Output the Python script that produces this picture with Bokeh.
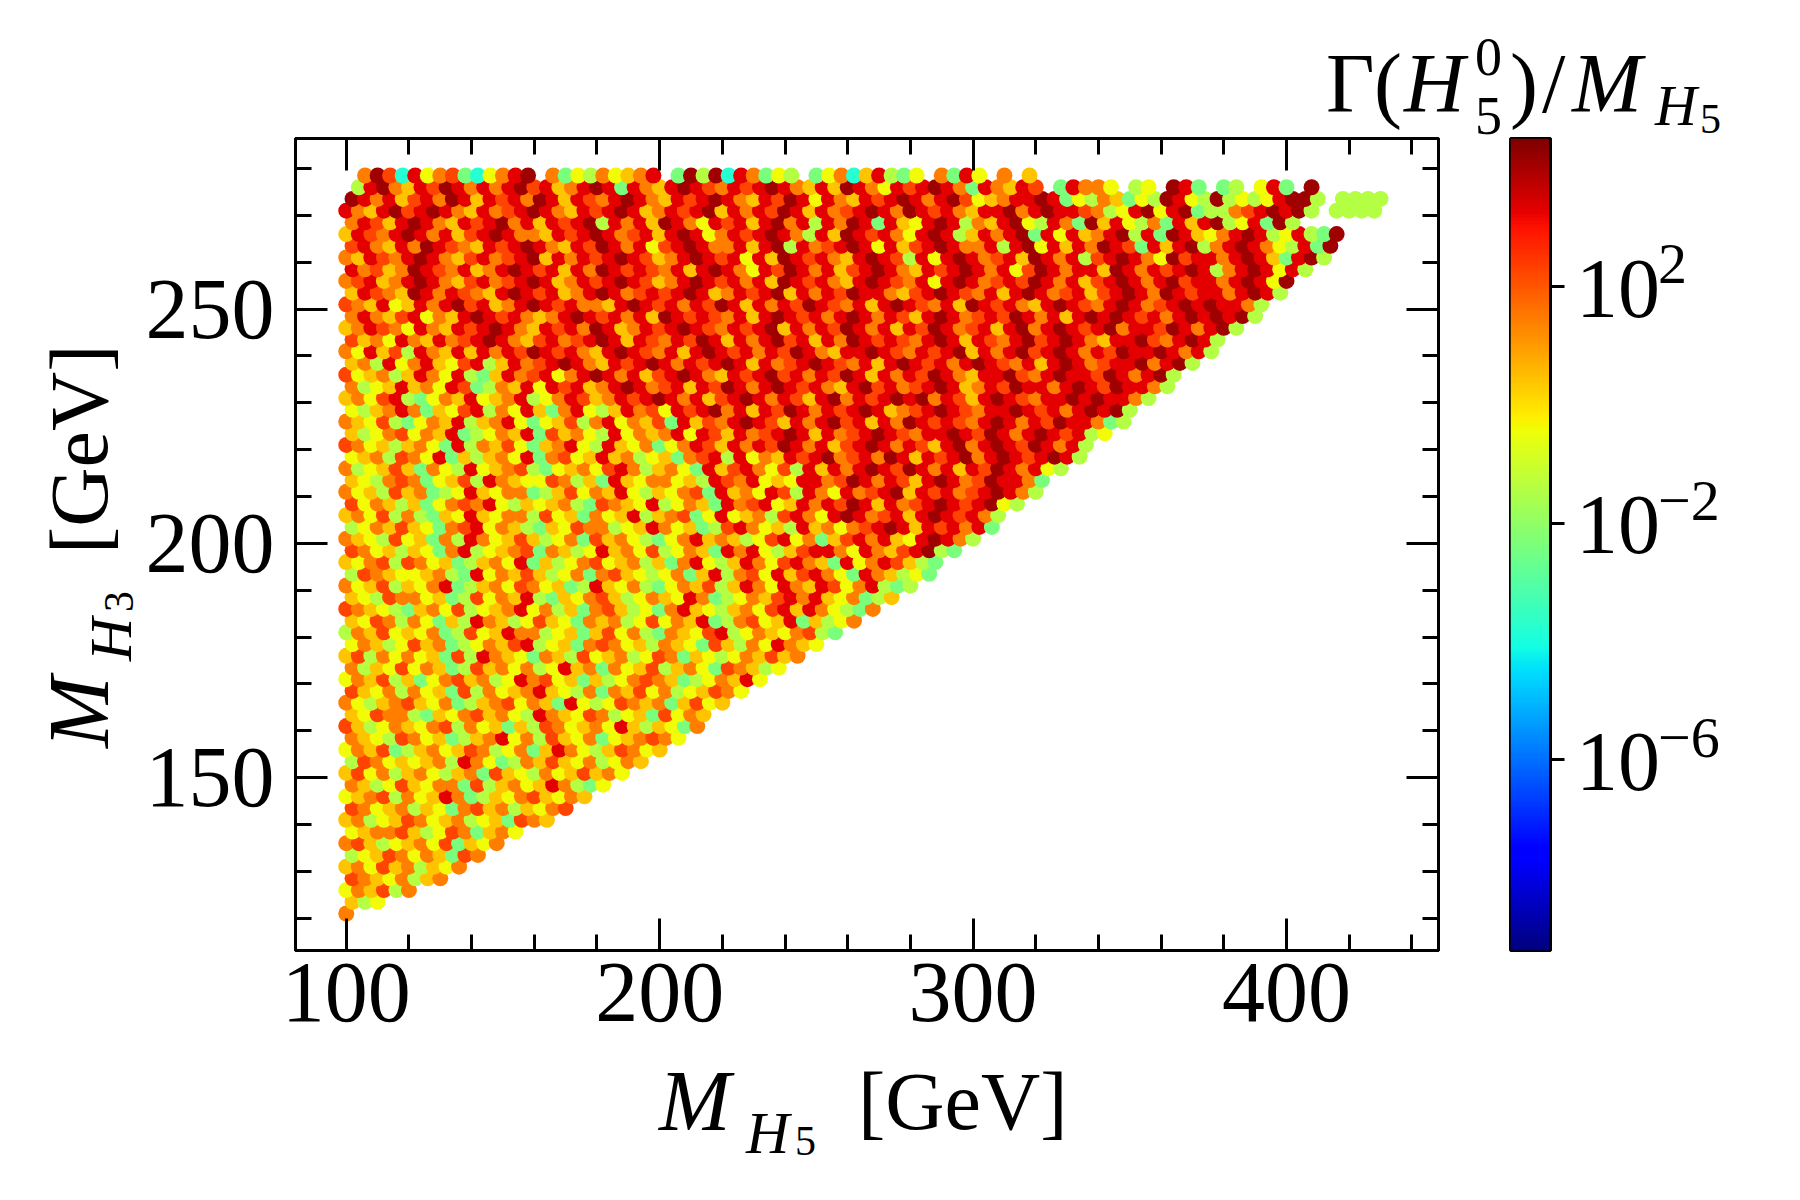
import numpy as np
from bokeh.plotting import figure
from bokeh.layouts import row, column
from bokeh.models import (ColumnDataSource, Range1d, LinearAxis, SingleIntervalTicker,
                          CustomJSTickFormatter, LinearColorMapper, FixedTicker, Div)
from bokeh.embed import file_html
from bokeh.resources import INLINE

# ---------------- data (hand-read raster of the reference scatter) ----------------
# one row of cells per M_H3 value; each character is one 4-GeV wide M_H5 cell,
# its letter is the colour class ('.' = no point)
ROW_M_H3 = [121.0, 123.5, 126.0, 128.5, 131.0, 133.5, 136.0, 138.5, 141.0, 143.5,
            146.0, 148.5, 151.0, 153.5, 156.0, 158.5, 161.0, 163.5, 166.0, 168.5,
            171.0, 173.5, 176.0, 178.5, 181.0, 183.5, 186.0, 188.5, 191.0, 193.5,
            196.0, 198.5, 201.0, 203.5, 206.0, 208.5, 211.0, 213.5, 216.0, 218.5,
            221.0, 223.5, 226.0, 228.5, 231.0, 233.5, 236.0, 238.5, 241.0, 243.5,
            246.0, 248.5, 251.0, 253.5, 256.0, 258.5, 261.0, 263.5, 266.0, 268.5,
            271.0, 273.5, 276.0, 278.5]
M_H5_FIRST = [100.0, 102.0]   # first cell of even / odd rows
CELL_WIDTH = 4.0              # GeV per character

COLOR_ROWS = [
    "o",
    "aly",
    "yoarl o",
    "roayo lao",
    "aoyra olayo",
    "lyaro yoagr o",
    "oraly aoyrg ayo",
    "yaoor alyro gaoy",
    "aolya royao lyagr oa",
    "royao laygo raola yor",
    "yaorl oyaRo glayo rayoa",
    "oalyr ayoog rlaoy aRolg y",
    "aryol aoyla ogray loyar aoy",
    "lroya yaolR oyglo arayo lyoa",
    "yoarg laoya rolyo gaRoy laroy a",
    "oaylr oyagl aoRyo lrayo gyaor oy",
    "ralyo ayorl oyaga lroya oyRal aygo",
    "ayroo lgayo raoyl Roayr olyag ryoa",
    "oylao rayog laory oagRy lyroa ogary a",
    "rayol oyagr loyao Raylo goary olyar oy",
    "yoarl agyor aolyR oryag alyor oagly oaRy",
    "olayr yoagl raoyo lyRao goyar laoyg roaly",
    "arloy oyagr lRoay goalr yaoly rogay lyoar ao",
    "yoaly raogl yoarR lyago royal oaygr aloyR oay",
    "loary ayogl ryaRo olyag aryol goayr Rlyoa yorlg",
    "ayrol oygal Roaly raygo aolyr yoaRg lorya Rgaly o",
    "roayl gaoyr lyaoR yolag oraly goRay laoyr RaRoy lgo",
    "aylro oyagl ryoaR lgayo ralyo ayRog lyoar RoRay ogla",
    "oyarl ayoRg laoyr oyagl Rayol gyoar laRoy RoaRr yoRlg l",
    "lroay yaolg Ryoar alyog orayl yogaR loryR arRoy gRoal yg",
    "ayorl royag laoyR galyo ryaol agoRy laRoy rRoag RyoRr alg",
    "royal aygoR lyaor goaly Raoyr lyoag RoRyl arRRo yRoar Rdlg",
    "oaylr yagol Royar alyog raoyl gyoRa oalyr Ryoga rRoRa yRdRo l",
    "lyoar aygor Ryoal gayro olyaR oyagl rRoya lRaoy orRdR aRrRo Rg",
    "aoyrl olgay Rayoo lryag oyaRl aorgy Ryaol rRoyR dRorR aRdRr Rol",
    "ryoal agyor oRyla yaolg roayR lyoag RorRy aRoRr dRaRo rRdRr Rdyl",
    "oyalr aogly Rayoo glary oaRyl ayorg RaoyR rlRoy RorRd aRrRo rRdRo l",
    "aylor ogyar lRoay yrola gRayo oyalR roRya yRRor dRoRr aRdRo rdRRo g",
    "olyar agoyl Ryaor lgyao yrRol aoygR arRoy rlRaR oRdRr dRoRa RrdRo Ryl",
    "yaolr oyRga laoyR gorya Raoly agorR lRyoa RrRdo rRodR aRrRd oRdRr RdRl",
    "royal aoygR loary gaoRy lRayo gyoRr aRoRr dRoRa rRdRo RraRd oRdRr dRoRl",
    "alyor yoaRg lyoaR graoy lRyoa oRyRr aRorR dRaRo rRdRr oRRdR rdRoR dRrRl y",
    "oayrl gyoaR laoRy gyarl oRyoa rgRar oRdRr aRoRd rRaRo dRrRr oRdRo RrdRR ogl",
    "ylaoR ogayr RloyR agoRy laRor yRrRd oRaRr dRoRr RdRao rRdRr oRRdR rRoRd Rdl",
    "aoyrR lgyoa RyaoR lyoRr aoRrR dRoRa rRdRo RraRd oRrRd RdoRr aRdRr oRRdR dRRol",
    "olyaR aoyRr gloaR yRrRa oRdRo rRaRr dRoRd RrRoa RdrRo rRdRa oRrdR RoRdR rdRRo l",
    "ryaol aRoyR lgaRo rRyoR dRoRa rRdRo aRrRd rRoRr dRaRo RrdRo aRRdr oRdRR rdRoR dl",
    "aolRy oRayr RlaRo rRdRo aRrRd RoRrR dRaRo rRdRr oRaRd RrRoR dRroR aRdRo rRRdo Rdl",
    "oyRar lRoaR aRoRr dRrRo aRdRr oRaRd RrRoR rdRoa RRdRr oRrRd aRoRd rRdRo RrdRR dRoRl",
    "raoyR oaRor RdRoa rRorR dRaRr oRrdR aRoRd rRaRo dRrRr oRdRa RroRd rRdRo aRRdr oRdRl",
    "aoRro yRoaR rRdRo aRrRo dRaoR rRdRr oRrRd aRoRr dRoRa RrdRo rRaRd oRdRr RdoRR rdRoR dl",
    "oRoar RyoaR dRrRo aoRdR rRoRa dRrRr oRaRd RrRoR dRoRr aRdRo rRrdR oRaRd RdRrR oRdRd Rdl",
    "roaRy aRoRd rRaoR dRrRo oaRdR rRoRr dRaRo RrdRr oRaRd RroRa dRrRo aRdRr oRdRo rRdRd RRol",
    "aRroa dRoRr oaRdR rRaoR dRorR rRdRa oRrRd aRoRr dRRoa rRdRr oRaRd RorRa rRdRo dRrRR oRdRl",
    "orRao RdRoa rRorR dRaoR rRdRr aoRdR rRoRa dRrRo aRdRr oRyRd RorRr dRoRa rRdRo RdrRR oRdRy d",
    "Rorao dRroR aoRdR rRaRo dRrRr oRaRd RoyRr dRoRa rRdRo aRrRd RoRyr dRoRR adRoR rRdRl oRdRy Rl",
    "oaRro RdRoa rRorR daRoR rRdRr aoRdR rRyRa dRrRo aRdRr lRyRd RorRa dRoRl rRdRo ydrRR oRdRa gRdl",
    "rRoaR odRro aRrRd RoaRr dRoRy rRdRo oRaRd lRorR dRyRa rRdRo oRlRd yRaRo dRrgR aRdlo RdRoy lRgd",
    "aRroR dRoRa rRdRo oaRrR dRorR aRdRy oRrRd RolRa dRrRo yRdRl aRoRd gRyRa oRdlR gdRay oRdRl yRlg d",
    "oRraR dRoaR rRdoR aRrRd lRoRa dRoyR rRaRd oRlRo dRgRa yRdRl oaRdy lRogd aRylo gRaRd lyRgd l",
    "RoaRd rRdRo aRorR dRoaR rRdRa oRrRd aRoRr dRaRo rRdRo dRrRo aRRdo RdRRr olyRd yRdgl lorRd Rdl.l lll",
    "dRoRa rRodR aRrRo dRaRr oRdRo aRrRd RoaRr dRyRo aRrRd RoRdr yaoRR dRgyl oagyl dRyld lylyR ddl.l lll",
    ".lRdo aRrdR oRoRd rRaoR dRgRo aRdRr oRrRd RoaRa dRoyR rRdRo gRoaR r.gRo oy.ly .dRg. gl.yR g.d..",
    ".odrc Ryorg cyoRd .ogyl oyaoR .gdld cRogy l.gyo caRlg y.ogR y.o.a",
]
# log10(Gamma(H5^0)/M_H5) read for each colour class
LOG_LEVEL = {"c": -3.8, "g": -2.4, "l": -1.4, "y": -0.4, "a": 0.4,
             "o": 1.4, "r": 2.3, "R": 3.3, "d": 4.1}

X_TICK_STEP = 100
Y_TICK_STEP = 50
CB_TICKS_LOG = [-6, -2, 2]
CB_TICK_SUP = ["\u22126", "\u22122", "2"]
CB_LOG_LOW, CB_LOG_HIGH = -9.22, 4.5
X_LO, X_HI = 83.8, 448.5
Y_LO, Y_HI = 113.1, 286.4

# ---------------- decode rows into points ----------------
xs, ys, lw = [], [], []
for k, (yv, cells_row) in enumerate(zip(ROW_M_H3, COLOR_ROWS)):
    cells = cells_row.replace(" ", "")
    x0 = M_H5_FIRST[k % 2]
    for i, ch in enumerate(cells):
        if ch == ".":
            continue
        xs.append(x0 + CELL_WIDTH * i)
        ys.append(yv)
        lw.append(LOG_LEVEL[ch])
src = ColumnDataSource(dict(x=xs, y=ys, logw=lw))


def jet_palette(n=256):
    t = np.linspace(0, 1, n)
    r = np.interp(t, [0, 0.35, 0.66, 0.89, 1], [0, 0, 1, 1, 0.5])
    g = np.interp(t, [0, 0.125, 0.375, 0.64, 0.91, 1], [0, 0, 1, 1, 0, 0])
    b = np.interp(t, [0, 0.11, 0.34, 0.65, 1], [0.5, 1, 1, 0, 0])
    return ["#%02x%02x%02x" % (int(round(255 * a)), int(round(255 * bb)), int(round(255 * c)))
            for a, bb, c in zip(r, g, b)]


FONT = "Liberation Serif"
PAGE_W, PAGE_H = 1800, 1200
FRAME_L, FRAME_R, FRAME_T, FRAME_B = 295, 1438, 138, 950   # main plot frame on the page
CB_L, CB_R = 1510, 1550                                    # colour bar on the page
TOP_H = 134            # title strip
LEFT_W = 138           # y-label strip
MID_BOTTOM = 1058      # bottom of the figure canvases
MAIN_END = 1458        # right end of main canvas
RIGHT_X = 1570         # start of colour-bar tick label strip
MID_H = MID_BOTTOM - TOP_H

mapper = LinearColorMapper(palette=jet_palette(), low=CB_LOG_LOW, high=CB_LOG_HIGH)

p = figure(width=MAIN_END - LEFT_W, height=MID_H,
           x_range=Range1d(X_LO, X_HI), y_range=Range1d(Y_LO, Y_HI),
           output_backend="svg", toolbar_location=None,
           min_border_left=FRAME_L - LEFT_W, min_border_right=MAIN_END - FRAME_R,
           min_border_top=FRAME_T - TOP_H, min_border_bottom=MID_BOTTOM - FRAME_B)
p.grid.grid_line_color = None
p.outline_line_color = "black"
p.outline_line_width = 3
p.background_fill_color = "white"
p.border_fill_color = "white"

p.scatter("x", "y", source=src, size=16, line_color=None,
          fill_color={"field": "logw", "transform": mapper})


def style_axis(ax, show):
    ax.axis_line_width = 3
    ax.axis_line_color = "black"
    ax.major_tick_in = 32
    ax.major_tick_out = 0
    ax.minor_tick_in = 16
    ax.minor_tick_out = 0
    ax.major_tick_line_width = 3
    ax.minor_tick_line_width = 3
    ax.major_tick_line_color = "black"
    ax.minor_tick_line_color = "black"
    ax.major_label_text_font = FONT
    ax.major_label_text_font_size = "86px"
    ax.major_label_text_color = "black"
    if not show:
        ax.formatter = CustomJSTickFormatter(code="return ''")
        ax.major_label_text_font_size = "0px"
        ax.major_label_standoff = 0


def xt():
    return SingleIntervalTicker(interval=X_TICK_STEP, num_minor_ticks=5)


def yt():
    return SingleIntervalTicker(interval=Y_TICK_STEP, num_minor_ticks=5)


p.xaxis[0].ticker = xt()
p.yaxis[0].ticker = yt()
style_axis(p.xaxis[0], True)
style_axis(p.yaxis[0], True)
p.xaxis[0].major_label_standoff = 13
p.yaxis[0].major_label_standoff = 21

top_ax = LinearAxis(ticker=xt())
style_axis(top_ax, False)
p.add_layout(top_ax, "above")
right_ax = LinearAxis(ticker=yt())
style_axis(right_ax, False)
p.add_layout(right_ax, "right")

# ---------------- colour bar: its own small figure on log10 scale ----------------
cbf = figure(width=RIGHT_X - MAIN_END, height=MID_H,
             x_range=Range1d(0, 1), y_range=Range1d(CB_LOG_LOW, CB_LOG_HIGH),
             output_backend="svg", toolbar_location=None,
             x_axis_location=None, y_axis_location="right",
             min_border_left=CB_L - MAIN_END, min_border_right=RIGHT_X - CB_R,
             min_border_top=FRAME_T - TOP_H, min_border_bottom=MID_BOTTOM - FRAME_B)
cbf.grid.grid_line_color = None
cbf.outline_line_color = "black"
cbf.outline_line_width = 3
cbf.border_fill_color = "white"
grad = np.linspace(CB_LOG_LOW, CB_LOG_HIGH, 512).reshape(512, 1)
cbf.image(image=[grad], x=0, y=CB_LOG_LOW, dw=1, dh=CB_LOG_HIGH - CB_LOG_LOW,
          color_mapper=mapper)
cax = cbf.yaxis[0]
cax.ticker = FixedTicker(ticks=CB_TICKS_LOG)
cax.axis_line_width = 3
cax.major_tick_in = 0
cax.major_tick_out = 14
cax.major_tick_line_width = 3
cax.minor_tick_line_color = None
cax.formatter = CustomJSTickFormatter(code="return ''")
cax.major_label_text_font_size = "0px"
cax.major_label_standoff = 0


# ---------------- texts with sub/superscripts as HTML ----------------
def span(text, x, baseline, size, italic=False):
    top = baseline - 0.8375 * size
    style = ("position:absolute;left:%.1fpx;top:%.1fpx;font-size:%dpx;line-height:%dpx;"
             "font-style:%s;white-space:nowrap;margin:0;padding:0;"
             % (x, top, size, size, "italic" if italic else "normal"))
    return '<span style="%s">%s</span>' % (style, text)


def box(w, h, inner):
    return ('<div style="position:relative;width:%dpx;height:%dpx;margin:0;padding:0;'
            "font-family:'%s';color:#000;overflow:visible;\">%s</div>" % (w, h, FONT, inner))


def make_div(w, h, inner):
    return Div(text=box(w, h, inner), width=w, height=h, margin=0,
               styles={"overflow": "visible"})


# colour bar title  Γ(H_5^0)/M_{H_5}   (page coordinates, top strip starts at 0)
title_parts = [("\u0393", 1326, 112, 84, False), ("(", 1374, 112, 84, False),
               ("H", 1404, 112, 84, True), ("0", 1475, 75, 54, False),
               ("5", 1475, 134, 54, False), (")", 1510, 112, 84, False),
               ("/", 1542, 112, 84, False), ("M", 1572, 112, 84, True),
               ("H", 1655, 126, 58, True), ("5", 1700, 133, 42, False)]
top_div = make_div(PAGE_W, TOP_H, "".join(span(*t) for t in title_parts))

# y label (rotated), local coordinates along the text
ylab_parts = [("M", 0, 108, 86, True), ("H", 87, 131, 60, True),
              ("3", 136, 133, 42, False), ("[GeV]", 194, 108, 82, False)]
rot = ('<div style="position:absolute;left:0px;top:%dpx;width:0;height:0;'
       'transform-origin:0 0;transform:rotate(-90deg);">%s</div>'
       % (748 - TOP_H, "".join(span(*t) for t in ylab_parts)))
left_div = make_div(LEFT_W, MID_H, rot)

# colour bar tick labels 10^k
cb_parts = []
for lv, sup in zip(CB_TICKS_LOG, CB_TICK_SUP):
    ry = FRAME_T + (CB_LOG_HIGH - lv) / (CB_LOG_HIGH - CB_LOG_LOW) * (FRAME_B - FRAME_T)
    cb_parts.append(span("10", 1576 - RIGHT_X, ry + 31 - TOP_H, 84))
    cb_parts.append(span(sup, 1658 - RIGHT_X, ry - 2 - TOP_H, 58))
right_div = make_div(PAGE_W - RIGHT_X, MID_H, "".join(cb_parts))

# x label  M_{H_5} [GeV]
xlab_parts = [("M", 659, 1130, 86, True), ("H", 746, 1153, 60, True),
              ("5", 795, 1155, 42, False), ("[GeV]", 858, 1130, 82, False)]
bottom_div = make_div(PAGE_W, PAGE_H - MID_BOTTOM,
                      "".join(span(t, x, b - MID_BOTTOM, s, it) for t, x, b, s, it in xlab_parts))

layout = column(top_div, row(left_div, p, cbf, right_div, spacing=0), bottom_div, spacing=0)

open("out.html", "w").write(file_html(layout, INLINE, title="scatter"))
